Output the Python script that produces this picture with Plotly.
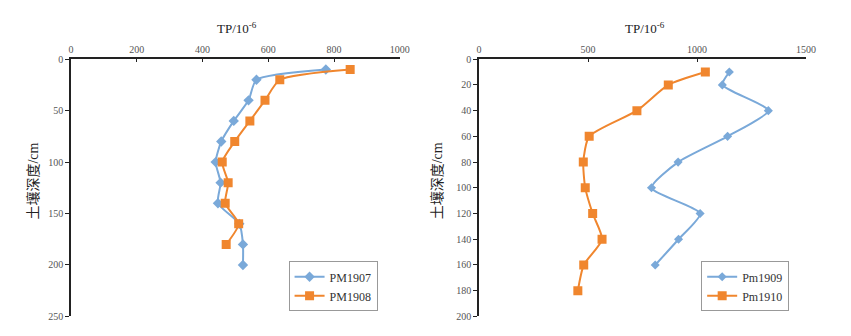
import plotly.graph_objects as go

# Soil profiles of total phosphorus (TP, 10^-6) versus depth (cm)
depth_a = [10, 20, 40, 60, 80, 100, 120, 140, 160, 180, 200]
pm1907 = [775, 564, 540, 495, 457, 440, 455, 447, 512, 523, 523]

depth_b = [10, 20, 40, 60, 80, 100, 120, 140, 160, 180]
pm1908 = [849, 635, 590, 544, 498, 460, 478, 469, 510, 472]

depth_c = [10, 20, 40, 60, 80, 100, 120, 140, 160]
pm1909 = [1148, 1116, 1327, 1140, 913, 791, 1014, 915, 808]

depth_d = [10, 20, 40, 60, 80, 100, 120, 140, 160, 180]
pm1910 = [1038, 868, 724, 505, 478, 487, 521, 564, 480, 453]

BLUE = "#7aa9d9"
ORANGE = "#f0862e"
FONT = "Liberation Serif"
CJK_FONT = "Liberation Serif, Noto Sans CJK SC"
W, H = 851, 336

fig = go.Figure()


def add_series(x, y, name, color, symbol, size, xa, ya, legend):
    fig.add_trace(go.Scatter(
        x=x, y=y, name=name, mode="lines+markers",
        line=dict(color=color, width=2, shape="spline", smoothing=0.6),
        marker=dict(symbol=symbol, size=size, color=color),
        xaxis=xa, yaxis=ya, legend=legend,
    ))


add_series(pm1907, depth_a, "PM1907", BLUE, "diamond", 8, "x", "y", "legend")
add_series(pm1908, depth_b, "PM1908", ORANGE, "square", 9, "x", "y", "legend")
add_series(pm1909, depth_c, "Pm1909", BLUE, "diamond", 7, "x2", "y2", "legend2")
add_series(pm1910, depth_d, "Pm1910", ORANGE, "square", 9, "x2", "y2", "legend2")

tick_font = dict(family=FONT, size=10, color="#555")
ytop, ybot = 1 - 56 / H, 1 - 322 / H

xcommon = dict(side="top", showgrid=False, zeroline=False, showline=True,
               linecolor="#222", linewidth=1.5, ticks="inside", ticklen=3,
               tickcolor="#222", tickfont=tick_font)
ycommon = dict(autorange=False, showgrid=False, zeroline=False, showline=True,
               linecolor="#222", linewidth=1.5, ticks="outside", ticklen=4,
               tickcolor="#222", tickfont=tick_font)

legend_style = dict(font=dict(family=FONT, size=12, color="#333"),
                    bordercolor="#999", borderwidth=1, bgcolor="white",
                    xanchor="left", yanchor="top", tracegroupgap=2,
                    itemwidth=30)

fig.update_layout(
    width=W, height=H, margin=dict(l=0, r=0, t=0, b=0),
    paper_bgcolor="white", plot_bgcolor="white",
    xaxis=dict(domain=[69 / W, 403 / W], range=[0, 1000], dtick=200,
               anchor="y", **xcommon),
    yaxis=dict(domain=[ybot, ytop], range=[250, 0], dtick=50,
               anchor="x", **ycommon),
    xaxis2=dict(domain=[483.5 / W, 815.5 / W], range=[0, 1500], dtick=500,
                anchor="y2", **xcommon),
    yaxis2=dict(domain=[ybot, ytop], range=[200, 0], dtick=20,
                anchor="x2", **ycommon),
    legend=dict(x=290 / W, y=1 - 265 / H, **legend_style),
    legend2=dict(x=709 / W, y=1 - 265 / H, **legend_style),
)

title_font = dict(family=FONT, size=13, color="#222")
for cx in (238, 652):
    fig.add_annotation(text="TP/10<sup>-6</sup>", x=cx / W, y=1 - 24 / H,
                       xref="paper", yref="paper", showarrow=False,
                       xanchor="center", yanchor="middle", font=title_font)
for cx in (30, 441):
    fig.add_annotation(text="土壤深度/cm", x=cx / W, y=1 - 182 / H,
                       xref="paper", yref="paper", showarrow=False,
                       xanchor="center", yanchor="middle", textangle=-90,
                       font=dict(family=CJK_FONT, size=14, color="#222"))

fig.write_html("out.html")
